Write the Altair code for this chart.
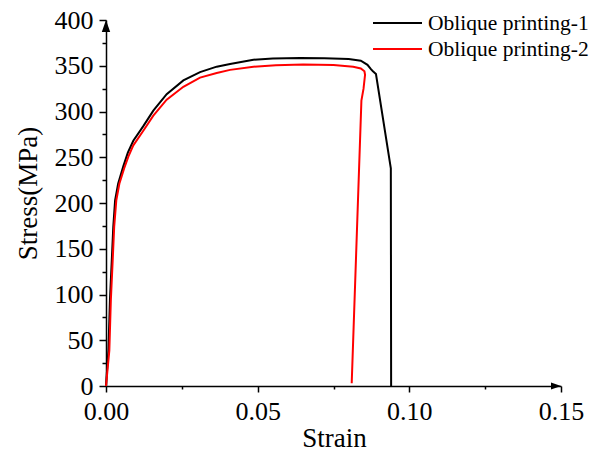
import altair as alt
import pandas as pd

# Oblique printing-1 (black)
s1_strain = [0, 0.0008, 0.0013, 0.0019, 0.0024, 0.0030, 0.0040, 0.0057, 0.0072, 0.0090, 0.0123,
             0.0156, 0.0200, 0.0255, 0.0310, 0.0365, 0.0409, 0.0486, 0.0550, 0.0640, 0.0720,
             0.0800, 0.0840, 0.0862, 0.0874, 0.0880, 0.0890, 0.0939, 0.0940]
s1_stress = [0, 39, 94, 137, 174, 203, 221, 240, 255, 268, 284,
             301, 319, 334, 343, 349, 352, 356.5, 358, 358.6, 358.3,
             357.3, 355.5, 351, 346, 344, 341, 238, 0]

# Oblique printing-2 (red)
s2_strain = [0, 0.0011, 0.0016, 0.0022, 0.0027, 0.0034, 0.0044, 0.0060, 0.0074, 0.0090, 0.0123,
             0.0156, 0.0200, 0.0255, 0.0310, 0.0365, 0.0409, 0.0486, 0.0560, 0.0650, 0.0750,
             0.0815, 0.0840, 0.0852, 0.0854, 0.0849, 0.0842, 0.0810]
s2_stress = [0, 39, 94, 137, 174, 203, 221, 238, 251, 263, 279,
             295.5, 313, 327, 337, 342, 345.5, 349, 350.5, 351.4, 350.8,
             349, 347, 344, 340, 325, 312, 3]

series_names = ["Oblique printing-1", "Oblique printing-2"]
series_colors = ["#000000", "#ff0000"]

x_ticks = [0, 0.025, 0.05, 0.075, 0.10, 0.125, 0.15]
y_ticks = [0, 25, 50, 75, 100, 125, 150, 175, 200, 225, 250, 275, 300, 325, 350, 375, 400]
x_max = 0.15
y_max = 400

rows = []
for i, (a, b) in enumerate(zip(s1_strain, s1_stress)):
    rows.append({"strain": a, "stress": b, "series": series_names[0], "i": i})
for i, (a, b) in enumerate(zip(s2_strain, s2_stress)):
    rows.append({"strain": a, "stress": b, "series": series_names[1], "i": i})
df = pd.DataFrame(rows)

FONT = "Liberation Serif"

common_axis = dict(
    labelFont=FONT,
    labelFontSize=26,
    labelColor="black",
    titleFont=FONT,
    titleFontSize=27,
    titleFontWeight="normal",
    titleColor="black",
    domainColor="black",
    domainWidth=1.5,
    tickColor="black",
    tickWidth=1.5,
    grid=False,
    labelOverlap=False,
)

xscale = alt.Scale(domain=[0, x_max], nice=False, zero=True)
yscale = alt.Scale(domain=[0, y_max], nice=False, zero=True)

x_axis = alt.Axis(
    values=x_ticks,
    title="Strain",
    labelExpr="round(datum.value*1000) % 50 === 0 ? format(datum.value, '.2f') : ''",
    tickSize={"condition": {"test": "round(datum.value*1000) % 50 === 0", "value": 6}, "value": 3},
    labelFlush=False,
    labelBaseline="alphabetic",
    labelPadding=27,
    titleX=228,
    titleY=60,
    titleBaseline="alphabetic",
    **common_axis,
)
y_axis = alt.Axis(
    values=y_ticks,
    title="Stress(MPa)",
    labelExpr="datum.value % 50 === 0 ? datum.label : ''",
    tickSize={"condition": {"test": "datum.value % 50 === 0", "value": 7}, "value": 4},
    labelPadding=6,
    titleAngle=-90,
    titleX=-78,
    titleY=173,
    titleAlign="center",
    titleBaseline="middle",
    **common_axis,
)

lines = alt.Chart(df).mark_line(strokeWidth=2).encode(
    x=alt.X("strain:Q", scale=xscale, axis=x_axis),
    y=alt.Y("stress:Q", scale=yscale, axis=y_axis),
    color=alt.Color(
        "series:N",
        scale=alt.Scale(domain=series_names, range=series_colors),
        legend=None,
    ),
    detail="series:N",
    order=alt.Order("i:Q"),
)

arrow_y = alt.Chart(pd.DataFrame({"strain": [0], "stress": [y_max]})).mark_point(
    shape="M0,0L0.7,2L-0.7,2Z", size=144, filled=True, color="black", opacity=1
).encode(x=alt.X("strain:Q", scale=xscale, axis=x_axis), y=alt.Y("stress:Q", scale=yscale, axis=y_axis))

arrow_x = alt.Chart(pd.DataFrame({"strain": [x_max], "stress": [0]})).mark_point(
    shape="M0,0L-2,-0.7L-2,0.7Z", size=100, filled=True, color="black", opacity=1
).encode(x=alt.X("strain:Q", scale=xscale, axis=x_axis), y=alt.Y("stress:Q", scale=yscale, axis=y_axis))

# legend drawn as rule + text entries (top-right)
legend_layers = []
for k, (name, col) in enumerate(zip(series_names, series_colors)):
    legend_layers.append(
        alt.Chart(pd.DataFrame({"label": [name]})).mark_rule(color=col, strokeWidth=2).encode(
            x=alt.value(267), x2=alt.value(316), y=alt.value(3 + 26 * k)
        )
    )
    legend_layers.append(
        alt.Chart(pd.DataFrame({"label": [name]})).mark_text(
            font=FONT, fontSize=21.5, color="black", align="left", baseline="alphabetic"
        ).encode(x=alt.value(322), y=alt.value(10 + 26 * k), text="label:N")
    )

chart = alt.layer(lines, arrow_y, arrow_x, *legend_layers).properties(
    width=455,
    height=366,
    autosize=alt.AutoSizeParams(type="none"),
    padding={"left": 106, "top": 20, "right": 35, "bottom": 66},
    background="white",
).configure(font=FONT).configure_view(stroke=None)

chart.save("out.html", embed_options={"renderer": "svg", "actions": False})
